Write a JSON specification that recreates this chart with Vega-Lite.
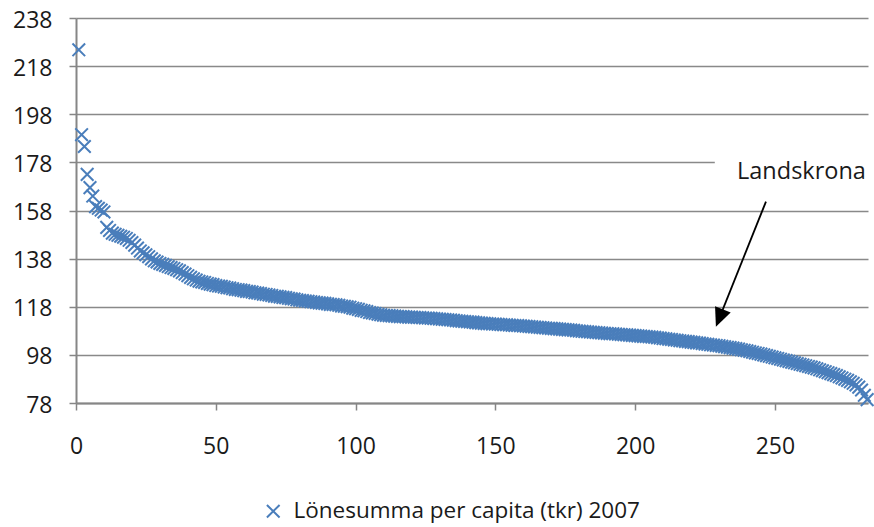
{
 "$schema": "https://vega.github.io/schema/vega-lite/v6.json",
 "width": 792,
 "height": 385,
 "autosize": {"type": "none"},
 "padding": {"left": 76, "top": 18, "right": 6, "bottom": 124},
 "background": "white",
 "config": {"view": {"stroke": null}, "font": "Open Sans"},
 "datasets": {
  "pts": [
   {"rank":1,"value":224.8},{"rank":2,"value":189.5},{"rank":3,"value":184.6},{"rank":4,"value":173.0},{"rank":5,"value":167.5},{"rank":6,"value":164.0},{"rank":7,"value":159.6},{"rank":8,"value":158.9},{"rank":9,"value":158.2},{"rank":10,"value":157.4},
   {"rank":11,"value":151.0},{"rank":12,"value":149.7},{"rank":13,"value":148.6},{"rank":14,"value":148.1},{"rank":15,"value":147.7},{"rank":16,"value":147.3},{"rank":17,"value":146.9},{"rank":18,"value":146.4},{"rank":19,"value":145.6},{"rank":20,"value":144.7},
   {"rank":21,"value":143.6},{"rank":22,"value":142.4},{"rank":23,"value":141.2},{"rank":24,"value":140.4},{"rank":25,"value":139.6},{"rank":26,"value":138.8},{"rank":27,"value":137.9},{"rank":28,"value":137.1},{"rank":29,"value":136.6},{"rank":30,"value":136.0},
   {"rank":31,"value":135.6},{"rank":32,"value":135.2},{"rank":33,"value":134.7},{"rank":34,"value":134.3},{"rank":35,"value":133.9},{"rank":36,"value":133.4},{"rank":37,"value":132.9},{"rank":38,"value":132.2},{"rank":39,"value":131.6},{"rank":40,"value":130.9},
   {"rank":41,"value":130.2},{"rank":42,"value":129.6},{"rank":43,"value":129.1},{"rank":44,"value":128.6},{"rank":45,"value":128.3},{"rank":46,"value":128.1},{"rank":47,"value":127.7},{"rank":48,"value":127.4},{"rank":49,"value":127.2},{"rank":50,"value":126.8},
   {"rank":51,"value":126.6},{"rank":52,"value":126.5},{"rank":53,"value":126.2},{"rank":54,"value":125.9},{"rank":55,"value":125.8},{"rank":56,"value":125.5},{"rank":57,"value":125.2},{"rank":58,"value":125.1},{"rank":59,"value":124.9},{"rank":60,"value":124.7},
   {"rank":61,"value":124.4},{"rank":62,"value":124.3},{"rank":63,"value":124.1},{"rank":64,"value":123.8},{"rank":65,"value":123.7},{"rank":66,"value":123.5},{"rank":67,"value":123.2},{"rank":68,"value":123.1},{"rank":69,"value":122.9},{"rank":70,"value":122.7},
   {"rank":71,"value":122.4},{"rank":72,"value":122.3},{"rank":73,"value":122.1},{"rank":74,"value":121.9},{"rank":75,"value":121.8},{"rank":76,"value":121.5},{"rank":77,"value":121.3},{"rank":78,"value":121.2},{"rank":79,"value":120.9},{"rank":80,"value":120.7},
   {"rank":81,"value":120.6},{"rank":82,"value":120.4},{"rank":83,"value":120.3},{"rank":84,"value":120.1},{"rank":85,"value":120.0},{"rank":86,"value":119.8},{"rank":87,"value":119.6},{"rank":88,"value":119.5},{"rank":89,"value":119.4},{"rank":90,"value":119.2},
   {"rank":91,"value":119.0},{"rank":92,"value":118.9},{"rank":93,"value":118.8},{"rank":94,"value":118.6},{"rank":95,"value":118.3},{"rank":96,"value":118.2},{"rank":97,"value":118.0},{"rank":98,"value":117.8},{"rank":99,"value":117.4},{"rank":100,"value":117.2},
   {"rank":101,"value":116.9},{"rank":102,"value":116.5},{"rank":103,"value":116.3},{"rank":104,"value":116.0},{"rank":105,"value":115.6},{"rank":106,"value":115.4},{"rank":107,"value":115.2},{"rank":108,"value":114.9},{"rank":109,"value":114.7},{"rank":110,"value":114.5},
   {"rank":111,"value":114.4},{"rank":112,"value":114.3},{"rank":113,"value":114.2},{"rank":114,"value":114.1},{"rank":115,"value":114.0},{"rank":116,"value":113.9},{"rank":117,"value":113.9},{"rank":118,"value":113.8},{"rank":119,"value":113.7},{"rank":120,"value":113.7},
   {"rank":121,"value":113.6},{"rank":122,"value":113.5},{"rank":123,"value":113.5},{"rank":124,"value":113.4},{"rank":125,"value":113.3},{"rank":126,"value":113.3},{"rank":127,"value":113.2},{"rank":128,"value":113.1},{"rank":129,"value":113.0},{"rank":130,"value":112.9},
   {"rank":131,"value":112.8},{"rank":132,"value":112.7},{"rank":133,"value":112.6},{"rank":134,"value":112.5},{"rank":135,"value":112.4},{"rank":136,"value":112.2},{"rank":137,"value":112.1},{"rank":138,"value":112.0},{"rank":139,"value":111.9},{"rank":140,"value":111.8},
   {"rank":141,"value":111.7},{"rank":142,"value":111.6},{"rank":143,"value":111.4},{"rank":144,"value":111.3},{"rank":145,"value":111.2},{"rank":146,"value":111.1},{"rank":147,"value":111.0},{"rank":148,"value":110.9},{"rank":149,"value":110.8},{"rank":150,"value":110.8},
   {"rank":151,"value":110.7},{"rank":152,"value":110.6},{"rank":153,"value":110.5},{"rank":154,"value":110.5},{"rank":155,"value":110.4},{"rank":156,"value":110.3},{"rank":157,"value":110.2},{"rank":158,"value":110.2},{"rank":159,"value":110.1},{"rank":160,"value":110.0},
   {"rank":161,"value":109.9},{"rank":162,"value":109.8},{"rank":163,"value":109.7},{"rank":164,"value":109.6},{"rank":165,"value":109.5},{"rank":166,"value":109.4},{"rank":167,"value":109.3},{"rank":168,"value":109.2},{"rank":169,"value":109.1},{"rank":170,"value":109.0},
   {"rank":171,"value":108.9},{"rank":172,"value":108.8},{"rank":173,"value":108.7},{"rank":174,"value":108.6},{"rank":175,"value":108.5},{"rank":176,"value":108.4},{"rank":177,"value":108.3},{"rank":178,"value":108.2},{"rank":179,"value":108.0},{"rank":180,"value":107.9},
   {"rank":181,"value":107.8},{"rank":182,"value":107.7},{"rank":183,"value":107.6},{"rank":184,"value":107.5},{"rank":185,"value":107.4},{"rank":186,"value":107.3},{"rank":187,"value":107.2},{"rank":188,"value":107.1},{"rank":189,"value":107.0},{"rank":190,"value":106.9},
   {"rank":191,"value":106.8},{"rank":192,"value":106.8},{"rank":193,"value":106.7},{"rank":194,"value":106.6},{"rank":195,"value":106.5},{"rank":196,"value":106.4},{"rank":197,"value":106.3},{"rank":198,"value":106.2},{"rank":199,"value":106.1},{"rank":200,"value":106.0},
   {"rank":201,"value":105.9},{"rank":202,"value":105.8},{"rank":203,"value":105.7},{"rank":204,"value":105.6},{"rank":205,"value":105.5},{"rank":206,"value":105.4},{"rank":207,"value":105.3},{"rank":208,"value":105.1},{"rank":209,"value":105.0},{"rank":210,"value":104.8},
   {"rank":211,"value":104.7},{"rank":212,"value":104.5},{"rank":213,"value":104.4},{"rank":214,"value":104.2},{"rank":215,"value":104.1},{"rank":216,"value":103.9},{"rank":217,"value":103.8},{"rank":218,"value":103.6},{"rank":219,"value":103.5},{"rank":220,"value":103.3},
   {"rank":221,"value":103.2},{"rank":222,"value":103.0},{"rank":223,"value":102.9},{"rank":224,"value":102.7},{"rank":225,"value":102.5},{"rank":226,"value":102.4},{"rank":227,"value":102.2},{"rank":228,"value":102.1},{"rank":229,"value":101.9},{"rank":230,"value":101.8},
   {"rank":231,"value":101.6},{"rank":232,"value":101.4},{"rank":233,"value":101.2},{"rank":234,"value":101.0},{"rank":235,"value":100.8},{"rank":236,"value":100.6},{"rank":237,"value":100.4},{"rank":238,"value":100.1},{"rank":239,"value":99.9},{"rank":240,"value":99.7},
   {"rank":241,"value":99.4},{"rank":242,"value":99.1},{"rank":243,"value":98.8},{"rank":244,"value":98.6},{"rank":245,"value":98.3},{"rank":246,"value":98.0},{"rank":247,"value":97.7},{"rank":248,"value":97.4},{"rank":249,"value":97.1},{"rank":250,"value":96.8},
   {"rank":251,"value":96.5},{"rank":252,"value":96.2},{"rank":253,"value":95.9},{"rank":254,"value":95.6},{"rank":255,"value":95.3},{"rank":256,"value":95.0},{"rank":257,"value":94.7},{"rank":258,"value":94.4},{"rank":259,"value":94.1},{"rank":260,"value":93.8},
   {"rank":261,"value":93.5},{"rank":262,"value":93.2},{"rank":263,"value":92.9},{"rank":264,"value":92.6},{"rank":265,"value":92.2},{"rank":266,"value":91.8},{"rank":267,"value":91.4},{"rank":268,"value":91.0},{"rank":269,"value":90.6},{"rank":270,"value":90.2},
   {"rank":271,"value":89.8},{"rank":272,"value":89.4},{"rank":273,"value":88.9},{"rank":274,"value":88.4},{"rank":275,"value":87.9},{"rank":276,"value":87.4},{"rank":277,"value":86.8},{"rank":278,"value":86.2},{"rank":279,"value":85.5},{"rank":280,"value":84.6},
   {"rank":281,"value":83.4},{"rank":282,"value":81.2},{"rank":283,"value":79.4}
  ],
  "box": [{"x1": 228.5, "x2": 285.5, "y1": 172.5, "y2": 184}],
  "label": [{"text": "Landskrona", "x": 259.5, "y": 171.1}],
  "arrow": [{"x": 246.8, "y": 161.7, "x2": 230.3, "y2": 113.8}],
  "head": [{"x": 228.9, "y": 109.7}]
 },
 "layer": [
  {
   "data": {"name": "pts"},
   "mark": {"type": "point", "shape": "M-1,-1L1,1M-1,1L1,-1", "filled": false, "size": 160, "strokeWidth": 2, "opacity": 1},
   "encoding": {
    "x": {"field": "rank", "type": "quantitative", "title": null,
      "scale": {"domain": [0, 283.3], "nice": false, "zero": false},
      "axis": {"values": [0, 50, 100, 150, 200, 250], "grid": false, "labelFlush": false, "domainColor": "#868686", "domainWidth": 2, "tickColor": "#868686", "tickWidth": 1.5, "tickSize": 7, "labelFontSize": 23, "labelPadding": 25, "labelColor": "#1a1a1a", "labelFont": "Open Sans"}},
    "y": {"field": "value", "type": "quantitative", "title": null,
      "scale": {"domain": [78, 238], "nice": false, "zero": false},
      "axis": {"values": [78, 98, 118, 138, 158, 178, 198, 218, 238], "grid": true, "gridColor": "#898989", "gridWidth": 1.5, "domainColor": "#868686", "domainWidth": 2, "tickColor": "#868686", "tickWidth": 1.5, "tickSize": 7, "labelFontSize": 23, "labelPadding": 17, "labelOffset": 2, "labelColor": "#1a1a1a", "labelFont": "Open Sans"}},
    "color": {"datum": "Lönesumma per capita (tkr) 2007", "type": "nominal",
      "scale": {"range": ["#4A7EBB"]},
      "legend": {"title": null, "orient": "none", "legendX": 186, "legendY": 482, "symbolType": "M-1,-1L1,1M-1,1L1,-1", "symbolSize": 160, "symbolStrokeWidth": 2, "symbolStrokeColor": "#4A7EBB", "labelFontSize": 22.5, "labelColor": "#1a1a1a", "labelFont": "Open Sans", "labelOffset": 9, "labelLimit": 600}}
   }
  },
  {
   "data": {"name": "box"},
   "mark": {"type": "rect", "fill": "white"},
   "encoding": {
    "x": {"field": "x1", "type": "quantitative", "title": null},
    "x2": {"field": "x2"},
    "y": {"field": "y1", "type": "quantitative", "title": null},
    "y2": {"field": "y2"}
   }
  },
  {
   "data": {"name": "label"},
   "mark": {"type": "text", "align": "center", "baseline": "alphabetic", "fontSize": 23.5, "font": "Open Sans", "color": "#1a1a1a"},
   "encoding": {
    "x": {"field": "x", "type": "quantitative", "title": null},
    "y": {"field": "y", "type": "quantitative", "title": null},
    "text": {"field": "text"}
   }
  },
  {
   "data": {"name": "arrow"},
   "mark": {"type": "rule", "color": "black", "strokeWidth": 1.8},
   "encoding": {
    "x": {"field": "x", "type": "quantitative", "title": null},
    "y": {"field": "y", "type": "quantitative", "title": null},
    "x2": {"field": "x2"},
    "y2": {"field": "y2"}
   }
  },
  {
   "data": {"name": "head"},
   "mark": {"type": "point", "shape": "M0,0L-0.45,-1L0.45,-1Z", "size": 1400, "filled": true, "color": "black", "opacity": 1, "strokeWidth": 0, "angle": 21.8},
   "encoding": {
    "x": {"field": "x", "type": "quantitative", "title": null},
    "y": {"field": "y", "type": "quantitative", "title": null}
   }
  }
 ]
}
